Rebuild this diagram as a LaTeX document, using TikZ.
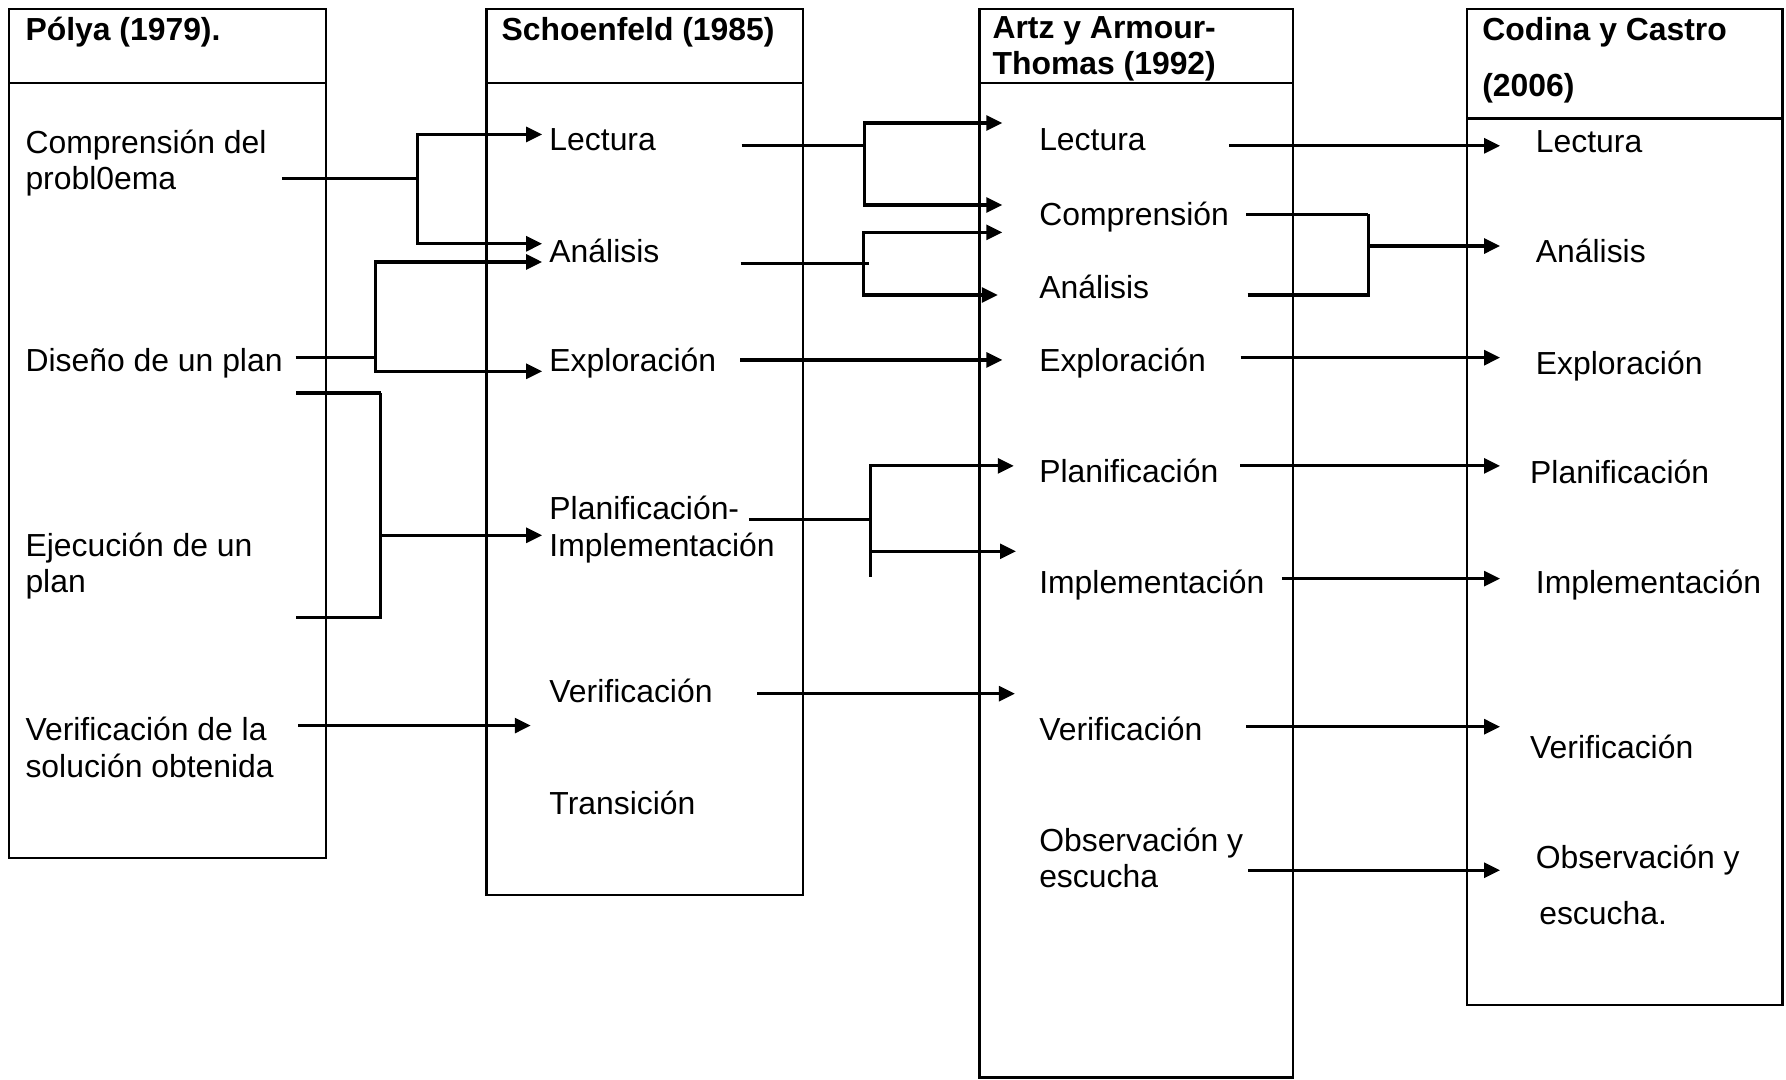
\documentclass[tikz,border=0pt]{standalone}
\usepackage{fontspec}
\setmainfont{Liberation Sans}
\usetikzlibrary{arrows.meta}

\tikzset{
  frame/.style={line width=1pt},
  txt/.style={anchor=west, inner sep=0pt, align=left, font=\fontsize{14pt}{16pt}\selectfont},
  ttl/.style={txt, font=\fontsize{14pt}{16pt}\selectfont\bfseries},
  widetxt/.style={txt, font=\fontsize{14pt}{24.5pt}\selectfont},
  widettl/.style={txt, font=\fontsize{14pt}{24.5pt}\selectfont\bfseries},
  line/.style={line width=1.4pt},
  arr/.style={line, -{Triangle[length=7pt,width=6.5pt]}},
}

\begin{document}
\begin{tikzpicture}[x=0.5pt, y=-0.5pt]
  \useasboundingbox (0,0) rectangle (1568,948);

  % columns
  \draw[frame] (8,8) rectangle (286,753);
  \draw[frame] (8,73) -- (286,73);
  \draw[frame] (427,8) rectangle (705,786);
  \draw[frame] (427,73) -- (705,73);
  \draw[frame] (860,8) rectangle (1135,946);
  \draw[frame] (860,73) -- (1135,73);
  \draw[frame] (1288,8) rectangle (1565,882);
  \draw[frame] (1288,104) -- (1565,104);

  % Polya
  \node[ttl] (p0) at (22,28) {Pólya (1979).};
  \node[txt] (p1) at (22,143) {Comprensión del\\probl0ema};
  \node[txt] (p2) at (22,319) {Diseño de un plan};
  \node[txt] (p3) at (22,497) {Ejecución de un\\plan};
  \node[txt] (p4) at (22,656) {Verificación de la\\solución obtenida};

  % Schoenfeld
  \node[ttl] (s0) at (440,28) {Schoenfeld (1985)};
  \node[txt] (s1) at (482,123) {Lectura};
  \node[txt] (s2) at (482,220) {Análisis};
  \node[txt] (s3) at (482,319) {Exploración};
  \node[txt] (s4) at (482,465) {Planificación-\\Implementación};
  \node[txt] (s5) at (482,607) {Verificación};
  \node[txt] (s6) at (482,705) {Transición};

  % Artz y Armour-Thomas
  \node[ttl] (a0) at (871,43) {Artz y Armour-\\Thomas (1992)};
  \node[txt] (a1) at (912,123) {Lectura};
  \node[txt] (a2) at (912,191) {Comprensión};
  \node[txt] (a3) at (912,252) {Análisis};
  \node[txt] (a4) at (912,319) {Exploración};
  \node[txt] (a5) at (912,413) {Planificación};
  \node[txt] (a6) at (912,514) {Implementación};
  \node[txt] (a7) at (912,640) {Verificación};
  \node[txt] (a8) at (912,753) {Observación y\\escucha};

  % Codina y Castro
  \node[widettl] (c0) at (1301,53) {Codina y Castro\\(2006)};
  \node[txt] (c1) at (1348,124) {Lectura};
  \node[txt] (c2) at (1348,220) {Análisis};
  \node[txt] (c3) at (1348,321) {Exploración};
  \node[txt] (c4) at (1343,414) {Planificación};
  \node[txt] (c5) at (1348,514) {Implementación};
  \node[txt] (c6) at (1343,656) {Verificación};
  \node[widetxt] (c7) at (1348,777) {Observación y\\\hspace{1.5pt}escucha.};

  % Polya -> Schoenfeld
  \draw[line] ([shift={(13,14)}]p1.east) -- ++(119,0) coordinate (k1);
  \draw[arr] (k1) |- ([shift={(-6,-5)}]s1.west);
  \draw[arr] (k1) |- ([shift={(-6,-6)}]s2.west);
  \draw[line] ([shift={(11,-5)}]p2.east) -- ++(70,0) coordinate (k2);
  \draw[arr] (k2) |- ([shift={(-6,10)}]s2.west);
  \draw[arr] (k2) |- ([shift={(-6,7)}]s3.west);
  \draw[line] ([shift={(38,-152)}]p3.east) -- ++(74,0) coordinate (k3);
  \draw[line] ([shift={(38,45)}]p3.east) -| (k3);
  \draw[arr] ([shift={(-149,5)}]s4.west) -- ([shift={(-6,5)}]s4.west);
  \draw[arr] ([shift={(21,-19)}]p4.east) coordinate (v4) -- ([xshift=-8pt]v4 -| s5.west);

  % Schoenfeld -> Artz
  \draw[line] ([shift={(75,5)}]s1.east) -- ++(108,0) coordinate (k5);
  \draw[arr] (k5) |- ([shift={(-32,-15)}]a1.west);
  \draw[arr] (k5) |- ([shift={(-32,-11)}]a2.west);
  \draw[line] ([shift={(71,11)}]s2.east) -- ++(108,0) coordinate (k6) -- ++(5,0);
  \draw[arr] (k6) |- ([shift={(-32,13)}]a2.west);
  \draw[arr] (k6) |- ([shift={(-36,7)}]a3.west);
  \draw[arr] ([shift={(21,-3)}]s3.east) coordinate (v7) -- ([xshift=-16pt]v7 -| a4.west);
  \draw[line] ([shift={(-23,-9)}]s4.east) -- ++(107,0) coordinate (k8);
  \draw[arr] (k8) |- ([shift={(-22,-4)}]a5.west);
  \draw[arr] (k8) |- ([shift={(-20,-30)}]a6.west);
  \draw[line] (k8) -- ++(0,51) coordinate (e8);
  \draw[arr] ([shift={(39,2)}]s5.east) coordinate (v9) -- ([xshift=-10.5pt]v9 -| a7.west);

  % Artz -> Codina
  \draw[arr] ([shift={(73,5)}]a1.east) coordinate (v10) -- ([xshift=-15.5pt]v10 -| c1.west);
  \draw[line] ([shift={(15,-3)}]a2.east) -- ++(107,0) coordinate (k11);
  \draw[line] ([shift={(86,7)}]a3.east) -| (k11);
  \draw[arr] ([shift={(-147,-4)}]c2.west) -- ([shift={(-31,-4)}]c2.west);
  \draw[arr] ([shift={(30,-5)}]a4.east) coordinate (v12) -- ([xshift=-15.5pt]v12 -| c3.west);
  \draw[arr] ([shift={(19,-4)}]a5.east) coordinate (v13) -- ([xshift=-13pt]v13 -| c4.west);
  \draw[arr] ([shift={(15,-6)}]a6.east) coordinate (v14) -- ([xshift=-15.5pt]v14 -| c5.west);
  \draw[arr] ([shift={(38,-2)}]a7.east) coordinate (v15) -- ([xshift=-13pt]v15 -| c6.west);
  \draw[arr] ([shift={(4,11)}]a8.east) coordinate (v16) -- ([xshift=-15.5pt]v16 -| c7.west);
\end{tikzpicture}
\end{document}
